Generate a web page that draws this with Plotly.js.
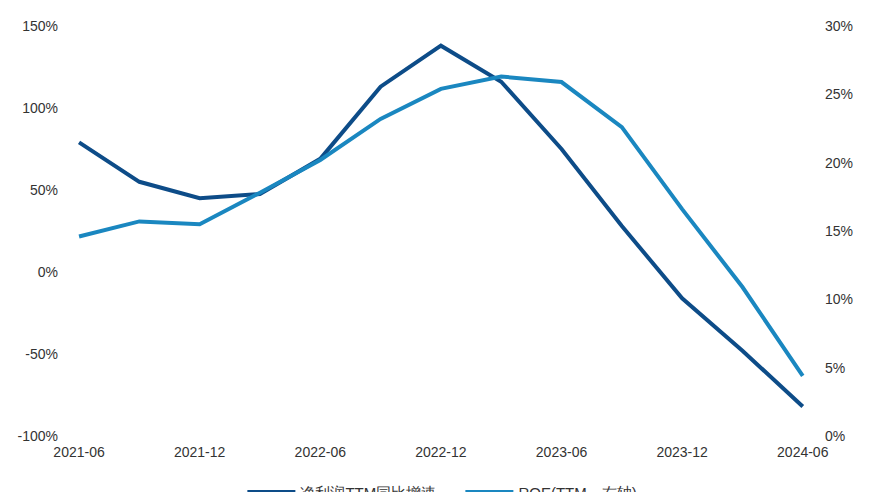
<!DOCTYPE html>
<html>
<head>
<meta charset="utf-8">
<script src="https://cdn.plot.ly/plotly-3.0.1.min.js"></script>
<style>html,body{margin:0;padding:0;background:#fff;}#chart{width:870px;height:492px;}</style>
</head>
<body>
<div id="chart"></div>
<script>
// Quarter-end categories
const categories = ["2021-06","2021-09","2021-12","2022-03","2022-06","2022-09","2022-12","2023-03","2023-06","2023-09","2023-12","2024-03","2024-06"];
// 净利润TTM同比增速 (left axis, %)
const profitGrowth = [79, 55, 45, 47.5, 69, 113, 138, 116, 75, 28, -16, -48, -82];
// ROE(TTM，右轴) (right axis, %)
const roe = [14.6, 15.7, 15.5, 17.8, 20.2, 23.2, 25.4, 26.3, 25.9, 22.6, 16.6, 10.9, 4.4];
const tickLabels = ["2021-06","2021-12","2022-06","2022-12","2023-06","2023-12","2024-06"];
const seriesNames = ["净利润TTM同比增速", "ROE(TTM，右轴)"];

const idx = categories.map((c, i) => i);
const labelPos = tickLabels.map(t => categories.indexOf(t));
const markPos = labelPos.map(p => p - 0.15);

const darkBlue = "#0d4c88";
const lightBlue = "#1a87c0";
const font = {family: "Liberation Sans, Arial, sans-serif", size: 14, color: "#333333"};

const traces = [
  {x: idx, y: profitGrowth, name: seriesNames[0], type: "scatter", mode: "lines",
   line: {color: darkBlue, width: 4}, yaxis: "y", xaxis: "x"},
  {x: idx, y: roe, name: seriesNames[1], type: "scatter", mode: "lines",
   line: {color: lightBlue, width: 4}, yaxis: "y2", xaxis: "x"}
];

const xr = [-0.15, 12.17];
const layout = {
  width: 870, height: 492,
  margin: {l: 70, r: 57, t: 26, b: 56, autoexpand: false},
  paper_bgcolor: "#ffffff", plot_bgcolor: "#ffffff",
  font: font,
  showlegend: true,
  legend: {orientation: "h", x: 0.232, xanchor: "left", y: -0.097, yanchor: "top",
           font: {family: "Liberation Sans, Arial, sans-serif", size: 15, color: "#333333"},
           itemwidth: 48, entrywidth: 155, entrywidthmode: "pixels", traceorder: "normal"},
  xaxis: {type: "linear", range: xr, tickvals: labelPos, ticktext: tickLabels,
          ticks: "", showgrid: false, zeroline: false, showline: false,
          ticklabelstandoff: 6, fixedrange: true},
  xaxis2: {type: "linear", range: xr, overlaying: "x", anchor: "free", position: 0.4,
           tickvals: markPos, ticks: "outside", ticklen: 4, tickcolor: "#d9d9d9", tickwidth: 1,
           showticklabels: false, showline: true, linecolor: "#d9d9d9", linewidth: 1,
           showgrid: false, zeroline: false},
  yaxis: {range: [-100, 150], tickvals: [-100, -50, 0, 50, 100, 150],
          ticktext: ["-100%", "-50%", "0%", "50%", "100%", "150%"],
          showgrid: false, zeroline: false, showline: false, ticks: "", ticklabelstandoff: 11},
  yaxis2: {range: [0, 30], overlaying: "y", side: "right", tickvals: [0, 5, 10, 15, 20, 25, 30],
           ticktext: ["0%", "5%", "10%", "15%", "20%", "25%", "30%"],
           showgrid: false, zeroline: false, showline: false, ticks: "", ticklabelstandoff: 11}
};

Plotly.newPlot("chart", traces, layout, {displayModeBar: false, staticPlot: true});
</script>
</body>
</html>
